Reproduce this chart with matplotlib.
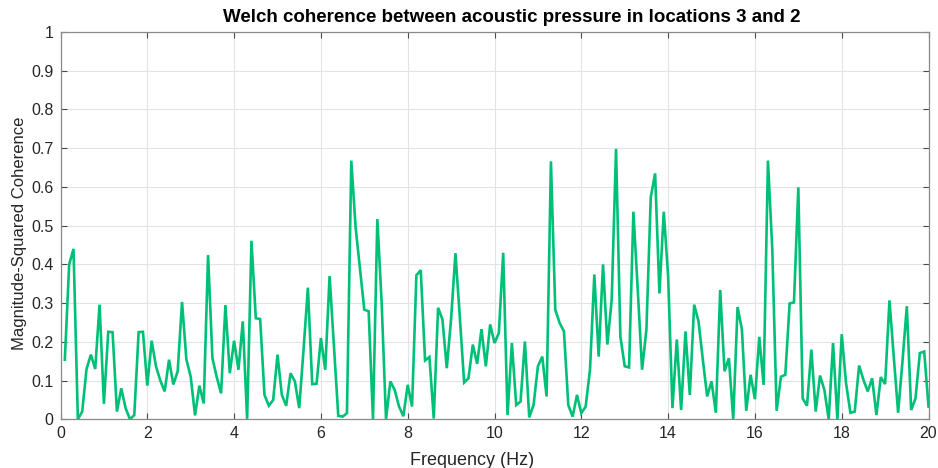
import numpy as np
import matplotlib
matplotlib.use("Agg")
import matplotlib.pyplot as plt

# Frequency axis (Hz) and magnitude-squared coherence estimates
freq_hz = np.round(np.arange(1, 201) * 0.1, 1)

coherence = [
    0.154, 0.400, 0.440, 0.000, 0.020, 0.130, 0.167, 0.130, 0.296, 0.040,
    0.226, 0.225, 0.020, 0.080, 0.029, 0.000, 0.011, 0.225, 0.226, 0.087,
    0.203, 0.137, 0.100, 0.072, 0.154, 0.090, 0.124, 0.303, 0.155, 0.110,
    0.010, 0.087, 0.041, 0.424, 0.158, 0.109, 0.067, 0.295, 0.119, 0.203,
    0.128, 0.253, 0.000, 0.461, 0.261, 0.259, 0.063, 0.035, 0.050, 0.167,
    0.063, 0.035, 0.119, 0.098, 0.029, 0.180, 0.340, 0.091, 0.092, 0.210,
    0.128, 0.370, 0.190, 0.009, 0.007, 0.016, 0.668, 0.495, 0.390, 0.283,
    0.279, 0.000, 0.517, 0.300, 0.000, 0.098, 0.076, 0.033, 0.008, 0.089,
    0.033, 0.372, 0.385, 0.152, 0.161, 0.002, 0.288, 0.258, 0.132, 0.260,
    0.429, 0.265, 0.095, 0.106, 0.193, 0.143, 0.233, 0.137, 0.245, 0.197,
    0.223, 0.430, 0.011, 0.197, 0.037, 0.046, 0.201, 0.005, 0.037, 0.137,
    0.162, 0.059, 0.666, 0.283, 0.249, 0.227, 0.037, 0.007, 0.063, 0.016,
    0.033, 0.128, 0.374, 0.162, 0.400, 0.193, 0.309, 0.698, 0.214, 0.137,
    0.134, 0.536, 0.335, 0.128, 0.232, 0.573, 0.635, 0.325, 0.536, 0.370,
    0.029, 0.206, 0.024, 0.227, 0.063, 0.296, 0.253, 0.154, 0.059, 0.098,
    0.017, 0.334, 0.124, 0.158, 0.000, 0.290, 0.232, 0.022, 0.115, 0.052,
    0.213, 0.089, 0.668, 0.440, 0.022, 0.110, 0.115, 0.299, 0.302, 0.599,
    0.054, 0.035, 0.180, 0.020, 0.113, 0.076, 0.000, 0.197, 0.000, 0.220,
    0.093, 0.017, 0.020, 0.139, 0.102, 0.072, 0.106, 0.011, 0.109, 0.091,
    0.307, 0.160, 0.017, 0.150, 0.292, 0.024, 0.054, 0.171, 0.175, 0.033,
]

x_ticks = list(range(0, 21, 2))
y_ticks = [0, 0.1, 0.2, 0.3, 0.4, 0.5, 0.6, 0.7, 0.8, 0.9, 1]
y_tick_labels = ["0", "0.1", "0.2", "0.3", "0.4", "0.5", "0.6", "0.7", "0.8", "0.9", "1"]

plt.rcParams["font.family"] = ["Liberation Sans", "DejaVu Sans"]

fig = plt.figure(figsize=(9.38, 4.68), dpi=100)
ax = fig.add_axes([0.0645, 0.104, 0.9254, 0.8276])

ax.plot(freq_hz, coherence, color="#00c078", linewidth=1.9, solid_joinstyle="miter")

ax.set_xlim(0, 20)
ax.set_ylim(0, 1)
ax.set_xticks(x_ticks)
ax.set_xticklabels([str(t) for t in x_ticks])
ax.set_yticks(y_ticks)
ax.set_yticklabels(y_tick_labels)

ax.grid(True, color="#e3e3e3", linewidth=0.8)
ax.set_axisbelow(True)

for side in ("left", "right", "top", "bottom"):
    ax.spines[side].set_color("#8a8a8a")
    ax.spines[side].set_linewidth(0.9)

ax.tick_params(axis="both", direction="in", length=4, width=0.8, color="#4a4a4a",
               labelsize=11.5, labelcolor="#262626", top=True, right=True, pad=5)

ax.set_xlabel("Frequency (Hz)", fontsize=13, color="#262626", labelpad=8)
ax.xaxis.set_label_coords(0.474, -0.085)
ax.set_ylabel("Magnitude-Squared Coherence", fontsize=12, color="#262626", labelpad=10)
ax.yaxis.set_label_coords(-0.039, 0.48)
ax.set_title("Welch coherence between acoustic pressure in locations 3 and 2",
             fontsize=13.5, fontweight="bold", color="#000000", pad=7, x=0.52)

fig.savefig("out.png", dpi=100)
